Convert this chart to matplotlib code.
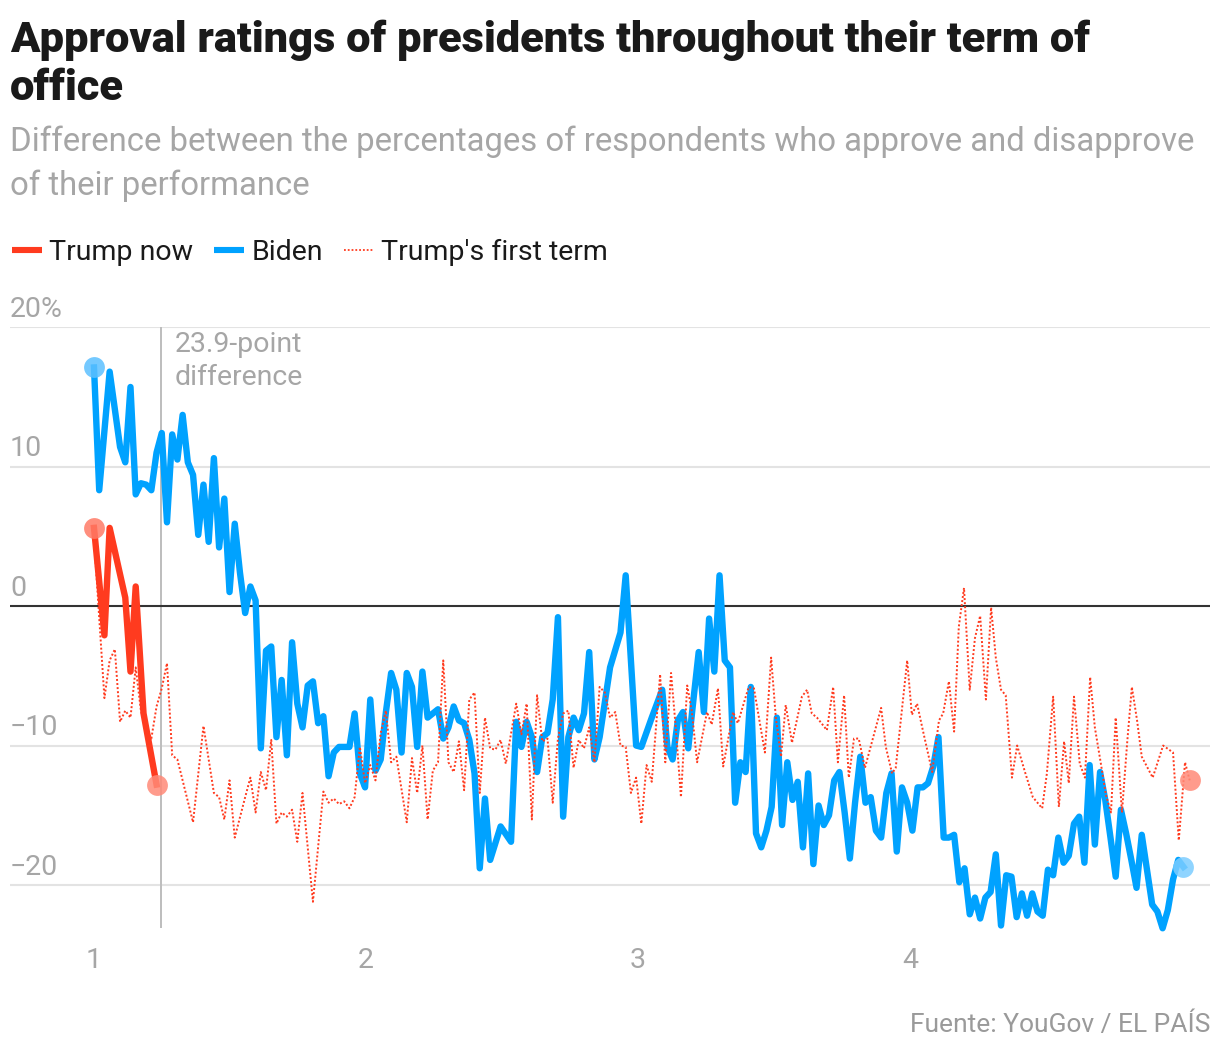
import matplotlib
matplotlib.use("Agg")
import numpy as np
import matplotlib.pyplot as plt
from matplotlib.lines import Line2D

# semanas desde la toma de posesion -> valor neto (aprueba - desaprueba)
trump_now_weeks = [0, 2, 3, 6, 7, 8, 9.5, 12]
trump_now_vals = [5.6, -2.1, 5.6, 0.6, -4.7, 1.4, -7.7, -12.8]

biden_weeks = [0, 1, 3, 5, 6, 7, 8, 9, 10, 11, 12, 13, 14, 15, 16, 17, 18, 19, 20,
               21, 22, 23, 24, 25, 26, 27, 28, 29, 30, 31, 32, 33, 34, 35, 36, 37,
               38, 39, 40, 41, 42, 43, 44, 45, 46, 47, 49, 50, 51, 52, 53, 54, 55,
               56, 57, 58, 59, 60, 61, 62, 63, 64, 66, 67, 68, 69, 70, 71, 72, 73,
               74, 75, 76, 78, 80, 81, 82, 83, 84, 85, 86, 87, 88, 89, 90, 91, 92,
               93, 94, 95, 96, 97, 99, 101, 102, 103, 104, 105, 107, 109, 110, 111,
               112, 113, 114, 115, 116, 117, 118, 119, 120, 121, 122, 123, 124, 125,
               126, 127, 128, 129, 130, 131, 132, 133, 134, 135, 136, 137, 138, 139,
               140, 141, 142, 143, 144, 145, 146, 147, 148, 149, 150, 151, 152, 153,
               154, 155, 156, 157, 158, 159, 160, 161, 162, 163, 164, 165, 166, 167,
               168, 169, 170, 171, 172, 173, 174, 175, 176, 177, 178, 179, 180, 181,
               182, 183, 184, 185, 186, 187, 188, 189, 190, 191, 192, 193, 194, 195,
               196, 197, 198, 199, 200, 201, 202, 203, 204, 205, 206, 207, 208, 209]
biden_vals = [17.1, 8.3, 16.8, 11.4, 10.3, 15.7, 8.0, 8.8, 8.7, 8.3, 11.0, 12.4, 6.0,
              12.3, 10.5, 13.7, 10.3, 9.4, 5.1, 8.7, 4.6, 10.6, 4.2, 7.7, 1.0, 5.9,
              2.4, -0.5, 1.4, 0.4, -10.2, -3.2, -2.9, -9.4, -5.3, -10.7, -2.6, -7.0,
              -8.7, -5.7, -5.4, -8.4, -7.9, -12.2, -10.5, -10.1, -10.1, -7.7, -12.0,
              -13.0, -6.7, -11.8, -11.0, -7.6, -4.8, -6.0, -10.5, -4.8, -5.8, -10.1,
              -4.7, -8.0, -7.4, -9.5, -8.7, -7.2, -8.2, -8.4, -9.6, -12.0, -18.8,
              -13.8, -18.2, -15.8, -16.9, -8.3, -10.1, -8.3, -9.4, -11.9, -9.4, -9.1,
              -6.7, -0.8, -15.1, -9.4, -8.0, -8.9, -7.7, -3.3, -11.0, -9.4, -4.4,
              -1.9, 2.2, -3.9, -10.0, -10.1, -8.0, -6.0, -10.1, -11.0, -8.2, -7.6,
              -10.2, -6.7, -3.3, -7.6, -0.9, -4.7, 2.2, -3.9, -4.4, -14.1, -11.2,
              -11.9, -5.8, -16.3, -17.3, -16.1, -14.4, -8.0, -15.7, -11.2, -13.9,
              -12.6, -17.3, -12.0, -18.5, -14.3, -15.7, -15.0, -12.5, -11.9, -14.8,
              -18.1, -14.1, -10.8, -14.1, -13.7, -16.1, -16.6, -13.4, -12.0, -17.6,
              -13.0, -14.1, -16.1, -13.0, -13.0, -12.7, -11.5, -9.4, -16.6, -16.6,
              -16.4, -19.8, -18.8, -22.1, -20.9, -22.4, -20.9, -20.5, -17.8, -22.9,
              -19.3, -19.4, -22.3, -20.6, -22.2, -20.6, -21.9, -22.2, -18.9, -19.3,
              -16.6, -18.4, -17.9, -15.6, -15.1, -18.4, -11.4, -17.1, -11.9, -13.9,
              -16.6, -19.4, -14.6, -16.3, -18.2, -20.2, -16.4, -18.9, -21.4, -21.9,
              -23.1, -21.8, -19.6, -18.2, -18.7]

first_term_weeks = [0, 2, 3, 4, 5, 6, 7, 8, 9, 10, 11, 12, 13, 14, 15, 16, 17, 19,
                    21, 23, 24, 25, 26, 27, 29, 30, 31, 32, 33, 34, 35, 36, 37, 38,
                    39, 40, 42, 44, 45, 46, 47, 48, 49, 50, 51, 52, 53, 54, 55, 56,
                    57, 58, 60, 61, 62, 63, 64, 65, 66, 67, 68, 69, 70, 71, 72, 73,
                    74, 75, 76, 77, 78, 79, 81, 82, 83, 84, 85, 86, 87, 88, 89, 90,
                    91, 92, 93, 94, 95, 96, 97, 98, 99, 100, 101, 102, 103, 104, 105,
                    106, 107, 108.6, 109.6, 110.7, 111.6, 112.6, 113.8, 114.7, 115.7,
                    117.6, 118.5, 119.7, 120.7, 122.6, 123.5, 125.6, 126.6, 128.7,
                    129.9, 130.8, 131.8, 132.7, 133.9, 135.8, 136.8, 137.7, 138.7,
                    140.6, 141.8, 142.7, 143.9, 144.8, 145.8, 146.7, 147.9, 151.0,
                    151.9, 153.1, 153.8, 156.0, 156.9, 157.9, 159.0, 160.8, 162.1,
                    162.9, 164.0, 165.0, 165.9, 166.9, 168.0, 169.0, 170.0, 171.1,
                    172.1, 173.0, 174.0, 174.9, 176.1, 177.1, 178.6, 180.1, 181.9,
                    182.8, 184.0, 185.1, 186.1, 187.0, 188.0, 189.1, 190.1, 191.1,
                    192.0, 193.2, 194.1, 195.1, 196.0, 197.2, 198.2, 199.1, 200.1,
                    201.0, 203.1, 205.1, 207.0, 208.1, 209.3, 210.2]
first_term_vals = [4.9, -6.6, -3.9, -3.1, -8.3, -7.5, -8.0, -4.4, -7.5, -8.7, -9.5,
                   -7.2, -5.9, -4.1, -10.7, -11.0, -12.5, -15.5, -8.6, -13.4, -13.7,
                   -15.3, -12.5, -16.6, -13.7, -12.3, -14.8, -11.9, -13.2, -9.6, -15.6,
                   -14.8, -15.1, -14.6, -16.9, -13.4, -21.2, -13.3, -14.1, -13.8, -14.2,
                   -14.0, -14.5, -13.7, -10.1, -12.7, -11.4, -12.5, -9.1, -7.5, -11.2,
                   -10.8, -15.5, -10.9, -13.4, -10.0, -15.3, -11.8, -11.2, -3.9, -11.2,
                   -11.9, -9.7, -13.2, -6.7, -6.2, -13.4, -8.0, -10.2, -10.3, -9.6,
                   -11.3, -7.0, -9.2, -7.0, -15.3, -6.4, -9.7, -9.5, -14.1, -9.5, -7.7,
                   -7.5, -11.6, -9.6, -10.2, -8.7, -11.2, -5.8, -6.2, -8.0, -7.6, -10.0,
                   -10.1, -13.4, -12.3, -15.6, -11.4, -12.6, -4.9, -11.2, -4.8, -8.7,
                   -13.7, -5.7, -7.6, -11.2, -7.6, -8.5, -5.9, -11.5, -7.6, -8.4, -5.8,
                   -5.9, -10.5, -3.7, -8.0, -10.8, -7.1, -9.8, -6.5, -6.0, -7.7, -8.0,
                   -8.9, -5.8, -11.2, -6.4, -12.3, -9.5, -9.5, -11.6, -7.3, -10.1, -12.0,
                   -11.6, -3.9, -7.8, -7.0, -8.9, -11.9, -8.2, -7.7, -5.4, -9.0, -1.5,
                   1.3, -6.0, -2.3, -0.7, -6.7, -0.1, -3.7, -6.0, -6.4, -12.3, -10.0,
                   -11.9, -13.7, -14.5, -12.0, -6.5, -14.4, -9.7, -12.7, -6.5, -11.3,
                   -12.3, -5.1, -8.7, -11.4, -13.5, -14.8, -8.0, -14.8, -9.8, -5.8, -8.2,
                   -10.8, -12.3, -10.0, -10.5, -16.8, -11.2, -12.5]

yticks = [20, 10, 0, -10, -20]
ytick_labels = ["20%", "10", "0", "\u221210", "\u221220"]
xticks = [1, 2, 3, 4]

RED = "#ff3b1f"
BLUE = "#00a2ff"
GRAY = "#a6a6a6"

plt.rcParams['font.family'] = ['Roboto', 'DejaVu Sans']


def to_year(weeks):
    return 1 + np.array(weeks, dtype=float) / 52.18


def fit_width(txt, width_px):
    # ajusta el tamaño de letra para que el texto ocupe el ancho del original
    r = fig.canvas.get_renderer()
    w = txt.get_window_extent(r).width
    txt.set_fontsize(txt.get_fontsize() * width_px / w)


fig = plt.figure(figsize=(12.2, 10.54), dpi=100)
ax = fig.add_axes([10 / 1220, 126 / 1054, 1200 / 1220, 601 / 1054])

# lineas
ax.plot(to_year(biden_weeks), biden_vals, color=BLUE, lw=4.6, zorder=3,
        clip_on=False, label="Biden")
ax.plot(to_year(first_term_weeks), first_term_vals, color=RED, lw=1.4,
        ls=(0, (1, 1.1)), zorder=4, clip_on=False, label="Trump's first term")
ax.plot(to_year(trump_now_weeks), trump_now_vals, color=RED, lw=4.6, zorder=5,
        label="Trump now")

# puntos inicio / fin
dots = [
    (biden_weeks[0], biden_vals[0], "#5cc0ff"),
    (biden_weeks[-1], biden_vals[-1], "#7ccdff"),
    (trump_now_weeks[0], trump_now_vals[0], "#ff7a66"),
    (trump_now_weeks[-1], trump_now_vals[-1], "#ff8a78"),
    (first_term_weeks[-1], first_term_vals[-1], "#ff8a78"),
]
for w, v, c in dots:
    ax.plot(to_year([w]), [v], "o", ms=15, color=c, alpha=0.85, mec="none",
            zorder=6, clip_on=False)

# linea de referencia y anotacion
x_ref = 1.246
ax.axvline(x_ref, color="#bdbdbd", lw=1.4, zorder=2)
note = ax.text(x_ref + 0.05, 19.7, "23.9-point\ndifference", color=GRAY, fontsize=20.5,
               va="top", ha="left", linespacing=1.3)

ax.set_xlim(1 + (10 - 94) / 272, 1 + (1210 - 94) / 272)
ax.set_ylim(-23.08, 20)

for y in yticks:
    if y == 0:
        ax.axhline(0, color="#333333", lw=1.5, zorder=2)
    else:
        ax.axhline(y, color="#e3e3e3", lw=1.5, zorder=1)
for y, lab in zip(yticks, ytick_labels):
    ax.annotate(lab, (0, y), xycoords=("axes fraction", "data"), xytext=(0, 3),
                textcoords="offset points", ha="left", va="bottom",
                color=GRAY, fontsize=20.5)

ax.set_yticks([])
ax.set_xticks(xticks)
ax.set_xticklabels([str(t) for t in xticks], color=GRAY, fontsize=20.5)
ax.tick_params(axis="x", length=0, pad=14)
for s in ax.spines.values():
    s.set_visible(False)

# leyenda
handles = [
    Line2D([], [], color=RED, lw=4.4, solid_capstyle='butt'),
    Line2D([], [], color=BLUE, lw=4.4, solid_capstyle='butt'),
    Line2D([], [], color=RED, lw=1.3, ls=(0, (1, 1.1))),
]
fig.legend(handles, ["Trump now", "Biden", "Trump's first term"], ncol=3,
           loc="center left", bbox_to_anchor=(12 / 1220, 1 - 252 / 1054),
           frameon=False, fontsize=20.5, handlelength=1.05, handletextpad=0.25,
           columnspacing=0.75, labelcolor="#1a1a1a", borderaxespad=0,
           borderpad=0)

# titulos
title = fig.text(10 / 1220, 1 - 20 / 1054,
                 "Approval ratings of presidents throughout their term of\noffice",
                 fontsize=29, fontweight="black", color="#1a1a1a", va="top",
                 ha="left", linespacing=1.2)
sub = fig.text(10 / 1220, 1 - 126 / 1054,
               "Difference between the percentages of respondents who approve and disapprove\nof their performance",
               fontsize=23, color=GRAY, va="top", ha="left", linespacing=1.42)
fig.text(1210 / 1220, 1 - 1025 / 1054, "Fuente: YouGov / EL PA\u00cdS", fontsize=19,
         color="#9a9a9a", va="center", ha="right")

fit_width(title, 1078)
fit_width(sub, 1190)

fig.savefig("out.png", dpi=100)
